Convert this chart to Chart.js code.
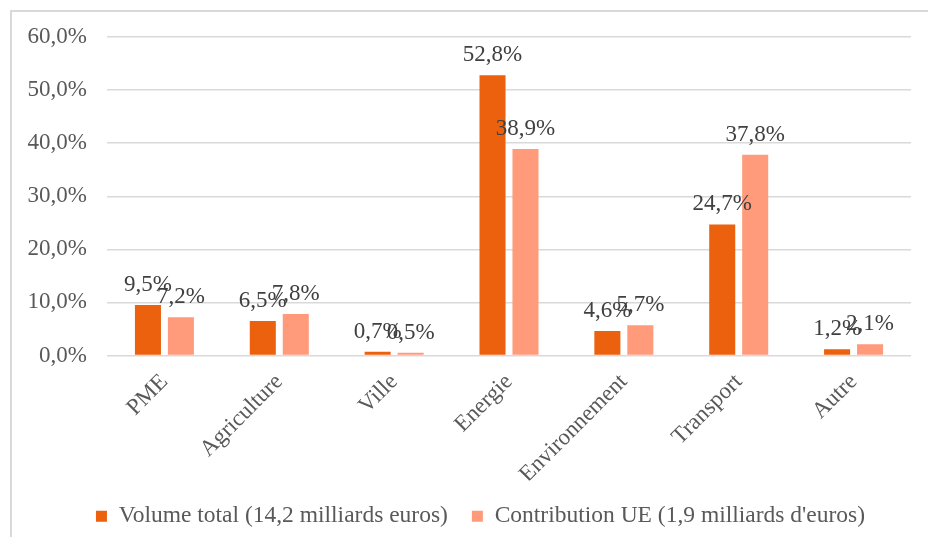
<!DOCTYPE html>
<html>
<head>
<meta charset="UTF-8" />
<script src="https://cdn.jsdelivr.net/npm/chart.js"></script>
<style>
  body { margin: 0; padding: 0; background: #fff; overflow: hidden; }
  .frame {
    position: absolute; left: 10px; top: 10px;
    width: 1000px; height: 600px;
    border: 2px solid #d9d9d9;
  }
  .wrap { position: absolute; left: 0; top: 0; width: 928px; height: 537px; }
</style>
</head>
<body>
<div class="frame"></div>
<div class="wrap"><canvas id="chart" width="928" height="537"></canvas></div>
<script>
const categories = ['PME', 'Agriculture', 'Ville', 'Energie', 'Environnement', 'Transport', 'Autre'];
const volumeTotal = [9.5, 6.5, 0.7, 52.8, 4.6, 24.7, 1.2];
const contributionUE = [7.2, 7.8, 0.5, 38.9, 5.7, 37.8, 2.1];
const seriesNames = ['Volume total (14,2 milliards euros)', "Contribution UE (1,9 milliards d'euros)"];

const fmt = v => v.toFixed(1).replace('.', ',') + '%';

Chart.defaults.font.family = "'Liberation Serif', 'Times New Roman', serif";
Chart.defaults.font.size = 23;
Chart.defaults.color = '#595959';

// étiquettes de valeur au-dessus des barres
const valueLabels = {
  id: 'valueLabels',
  afterDatasetsDraw(chart) {
    const ctx = chart.ctx;
    ctx.save();
    ctx.font = "23px 'Liberation Serif'";
    ctx.fillStyle = '#404040';
    ctx.textAlign = 'center';
    ctx.textBaseline = 'alphabetic';
    chart.data.datasets.forEach((ds, i) => {
      chart.getDatasetMeta(i).data.forEach((bar, j) => {
        ctx.fillText(fmt(ds.data[j]), bar.x, bar.y - 14);
      });
    });
    ctx.restore();
  }
};

new Chart(document.getElementById('chart'), {
  type: 'bar',
  data: {
    labels: categories,
    datasets: [
      { label: seriesNames[0], data: volumeTotal, backgroundColor: '#EC610E' },
      { label: seriesNames[1], data: contributionUE, backgroundColor: '#FF9A7B' }
    ]
  },
  options: {
    responsive: false,
    animation: false,
    layout: { padding: { top: 37, right: 17, bottom: -1, left: 50 } },
    datasets: { bar: { categoryPercentage: 0.574, barPercentage: 0.79 } },
    scales: {
      x: {
        grid: { display: false },
        border: { display: false },
        ticks: { maxRotation: 45, minRotation: 45, padding: 5, color: '#595959' },
        afterFit(scale) { scale.height = 125; }
      },
      y: {
        min: 0, max: 60,
        grid: { color: '#d9d9d9', lineWidth: 1.5, drawTicks: false },
        border: { display: false },
        ticks: { stepSize: 10, padding: 20, callback: v => fmt(v), color: '#595959' },
        afterFit(scale) {
          scale.width = 57;
          // pas de découpe des libellés (l'axe est étroit pour centrer la légende)
          scale._computeLabelArea = () => undefined;
        }
      }
    },
    plugins: {
      legend: {
        position: 'bottom',
        labels: { boxWidth: 11, boxHeight: 11, padding: 24, color: '#595959', font: { size: 23.5 } }
      },
      tooltip: { enabled: false }
    }
  },
  plugins: [valueLabels]
});
</script>
</body>
</html>
